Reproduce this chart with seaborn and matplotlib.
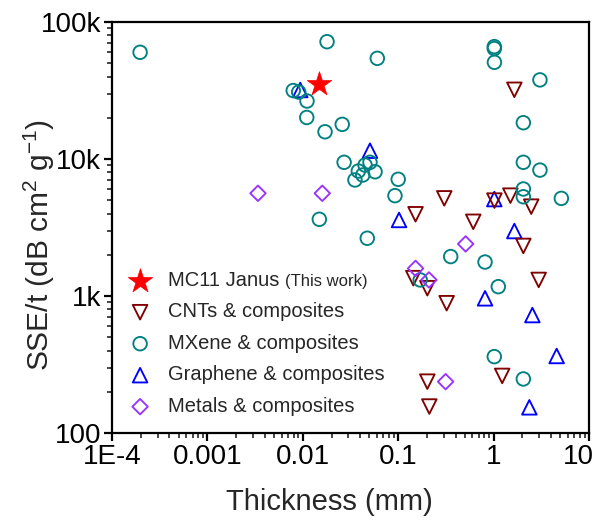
import numpy as np
import pandas as pd
import matplotlib
matplotlib.use("Agg")
import matplotlib.pyplot as plt
import matplotlib.transforms as mtransforms
import seaborn as sns
from matplotlib.ticker import LogLocator, NullFormatter

# ---------------- data (thickness in mm, SSE/t in dB cm2 g-1) ----------------
star_x = [0.0148]
star_y = [35000]

cnt_x = [1.65, 0.304, 1.02, 1.50, 2.48, 0.152, 0.612, 2.05, 0.144, 0.202,
         2.97, 0.322, 0.202, 1.23, 0.212]
cnt_y = [32000, 5160, 4970, 5400, 4490, 3950, 3480, 2320, 1350, 1140,
         1310, 886, 237, 261, 156]

mx_x = [1.97e-4, 0.01795, 0.00794, 0.00906, 0.01107, 0.011, 0.0259, 0.0171,
        0.0604, 1.017, 1.017, 1.02, 3.06, 2.05, 0.0271, 0.0506, 0.0449,
        0.0382, 0.0572, 0.0425, 0.0352, 0.100, 2.05, 3.06, 0.0925, 2.05,
        2.05, 5.13, 0.0474, 0.355, 0.813, 0.170, 1.12, 0.0149, 1.017, 2.05]
mx_y = [60100, 71800, 31600, 30800, 26500, 20100, 17900, 15800,
        54300, 66100, 64000, 50800, 37800, 18400, 9460, 9460, 9030,
        8170, 8070, 7640, 7030, 7110, 9460, 8300, 5400, 6040,
        5300, 5160, 2640, 1940, 1770, 1310, 1170, 3630, 361, 248]

gr_x = [0.0094, 0.0506, 1.017, 0.102, 1.65, 0.813, 2.55, 4.58, 2.37]
gr_y = [31900, 11500, 5100, 3590, 2980, 962, 726, 365, 154]

me_x = [0.00339, 0.016, 0.509, 0.152, 0.210, 0.314]
me_y = [5620, 5620, 2400, 1590, 1310, 237]

x_ticks = [1e-4, 1e-3, 1e-2, 1e-1, 1, 10]
x_tick_labels = ["1E-4", "0.001", "0.01", "0.1", "1", "10"]
y_ticks = [100, 1000, 10000, 100000]
y_tick_labels = ["100", "1k", "10k", "100k"]

labels = ["MC11 Janus", "CNTs & composites", "MXene & composites",
          "Graphene & composites", "Metals & composites"]

# ---------------- figure ----------------
sns.set_style("white")
plt.rcParams["font.family"] = ["Liberation Sans", "DejaVu Sans"]
plt.rcParams["mathtext.fontset"] = "custom"
plt.rcParams["mathtext.rm"] = "Liberation Sans"
plt.rcParams["mathtext.it"] = "Liberation Sans:italic"
plt.rcParams["mathtext.bf"] = "Liberation Sans:bold"

fig = plt.figure(figsize=(5.92, 5.21), dpi=100)
ax = fig.add_axes([112 / 592, 1 - 433 / 521, 477 / 592, 411 / 521])

def df(x, y):
    return pd.DataFrame({"x": x, "y": y})

lw = 1.35
sns.scatterplot(data=df(gr_x, gr_y), x="x", y="y", ax=ax, marker="^", s=110,
                facecolors="none", edgecolor="#0000FF", linewidth=lw,
                label=labels[3], zorder=3)
sns.scatterplot(data=df(cnt_x, cnt_y), x="x", y="y", ax=ax, marker="v", s=110,
                facecolors="none", edgecolor="#800000", linewidth=lw,
                label=labels[1], zorder=3)
sns.scatterplot(data=df(mx_x, mx_y), x="x", y="y", ax=ax, marker="o", s=95,
                facecolors="none", edgecolor="#008080", linewidth=lw,
                label=labels[2], zorder=3)
sns.scatterplot(data=df(me_x, me_y), x="x", y="y", ax=ax, marker="D", s=62,
                facecolors="none", edgecolor="#9933FF", linewidth=lw,
                label=labels[4], zorder=3)
sns.scatterplot(data=df(star_x, star_y), x="x", y="y", ax=ax, marker="*", s=340,
                color="#FF0000", edgecolor="#FF0000", linewidth=0.5,
                label=labels[0], zorder=4)

ax.set_xscale("log")
ax.set_yscale("log")
ax.set_xlim(1e-4, 10)
ax.set_ylim(100, 100000)
ax.set_xticks(x_ticks, x_tick_labels)
ax.set_yticks(y_ticks, y_tick_labels)
ax.xaxis.set_minor_locator(LogLocator(base=10, subs=np.arange(2, 10), numticks=20))
ax.yaxis.set_minor_locator(LogLocator(base=10, subs=np.arange(2, 10), numticks=20))
ax.xaxis.set_minor_formatter(NullFormatter())
ax.yaxis.set_minor_formatter(NullFormatter())

for sp in ax.spines.values():
    sp.set_visible(True)
    sp.set_color("black")
    sp.set_linewidth(1.6)

ax.tick_params(axis="both", which="major", direction="out", length=6, width=1.6,
               labelsize=20, pad=2, colors="black", bottom=True, left=True,
               top=False, right=False)
ax.tick_params(axis="both", which="minor", direction="out", length=3.5, width=1.2,
               bottom=True, left=True, top=False, right=False)

# last x tick label kept inside the figure
last = ax.get_xticklabels()[-1]
last.set_transform(last.get_transform() +
                   mtransforms.ScaledTranslation(-11 / 100, 0, fig.dpi_scale_trans))

ax.set_xlabel("Thickness (mm)", fontsize=21)
ax.set_ylabel(r"SSE/t (dB cm$^{2}$ g$^{-1}$)", fontsize=21.5)
ax.xaxis.set_label_coords((329 - 112) / 477, -0.135)
ax.yaxis.set_label_coords((57 - 112) / 477, 1 - (245 - 22) / 411)

handles, labs = ax.get_legend_handles_labels()
order = [labs.index(l) for l in labels]
leg = ax.legend([handles[i] for i in order], [labs[i] for i in order],
                loc="upper left", bbox_to_anchor=(128 / 592, 1 - 271 / 521),
                bbox_transform=fig.transFigure, frameon=False, fontsize=14.5,
                handlelength=1.2, handletextpad=0.8, labelspacing=0.62,
                borderpad=0, borderaxespad=0, scatterpoints=1)

fig.canvas.draw()
t0 = leg.get_texts()[0]
bb = t0.get_window_extent()
fs_px = 14.5 * 100 / 72
x_fig = (bb.x1 + 5) / fig.bbox.width
y_fig = (bb.y0 + 0.21 * fs_px) / fig.bbox.height
fig.text(x_fig, y_fig, "(This work)", fontsize=12, va="baseline", ha="left")

fig.savefig("out.png", dpi=100)
